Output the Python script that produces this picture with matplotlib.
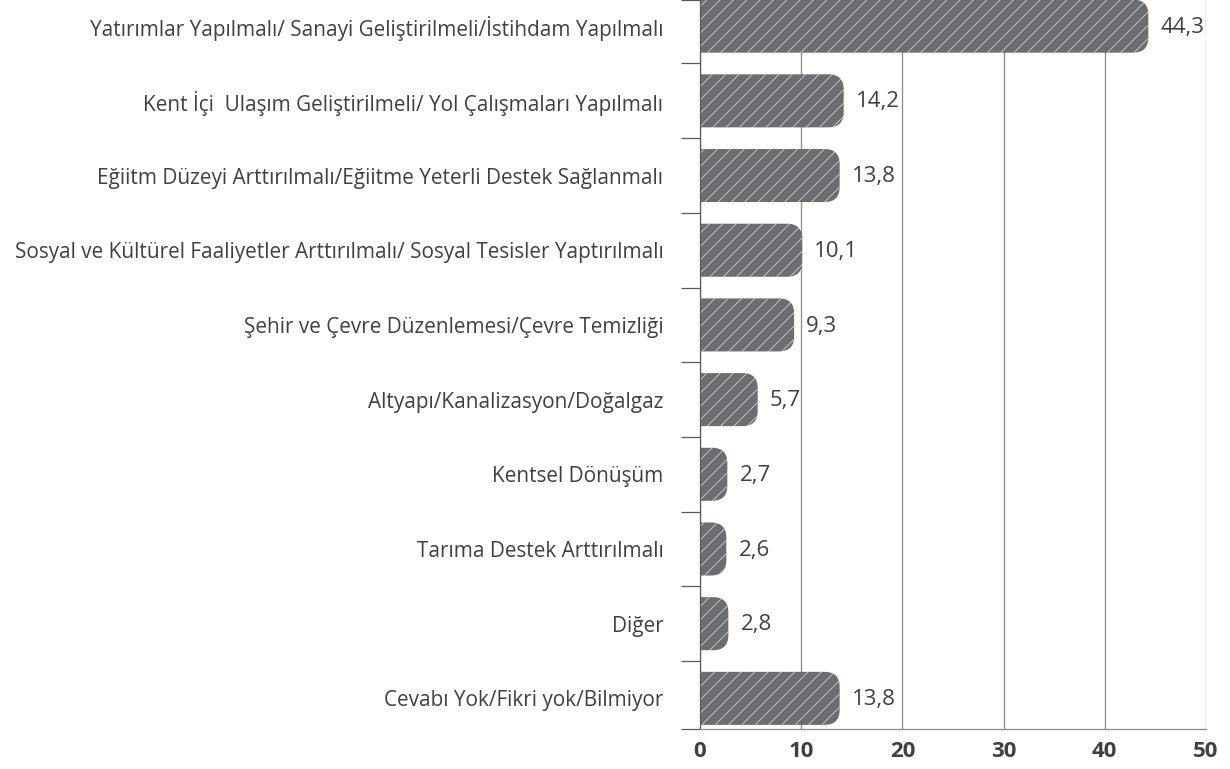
import numpy as np
import matplotlib.pyplot as plt
from matplotlib.patches import FancyBboxPatch

plt.rcParams['font.family'] = ['Open Sans', 'DejaVu Sans']
plt.rcParams['hatch.linewidth'] = 0.8

# categories (top to bottom) and percentages
categories = [
    "Yatırımlar Yapılmalı/ Sanayi Geliştirilmeli/İstihdam Yapılmalı",
    "Kent İçi  Ulaşım Geliştirilmeli/ Yol Çalışmaları Yapılmalı",
    "Eğiitm Düzeyi Arttırılmalı/Eğiitme Yeterli Destek Sağlanmalı",
    "Sosyal ve Kültürel Faaliyetler Arttırılmalı/ Sosyal Tesisler Yaptırılmalı",
    "Şehir ve Çevre Düzenlemesi/Çevre Temizliği",
    "Altyapı/Kanalizasyon/Doğalgaz",
    "Kentsel Dönüşüm",
    "Tarıma Destek Arttırılmalı",
    "Diğer",
    "Cevabı Yok/Fikri yok/Bilmiyor",
]
values = [44.3, 14.2, 13.8, 10.1, 9.3, 5.7, 2.7, 2.6, 2.8, 13.8]
xticks = [0, 10, 20, 30, 40, 50]

DPI = 80
fig = plt.figure(figsize=(1230 / DPI, 769 / DPI), dpi=DPI)
ax = fig.add_axes([700 / 1230, 1 - 729 / 769, 506 / 1230, 729 / 769])

n = len(categories)
ypos = np.arange(n)[::-1]
bar_h = 0.71
bars = ax.barh(ypos, values, height=bar_h, color='none', edgecolor='none')

# rounded right ends: box starts left of 0 so the axes clip its left side
r = 1.5
asp = 0.134
for rect in bars:
    x0, y0 = rect.get_x(), rect.get_y()
    w, h = rect.get_width(), rect.get_height()
    p = FancyBboxPatch((x0 - r, y0), w + r, h,
                       boxstyle=f"round,pad=0,rounding_size={r}",
                       mutation_aspect=asp, facecolor='#6c6d71',
                       edgecolor='#cbcbcb', linewidth=0, hatch='//', zorder=2)
    ax.add_patch(p)
    rect.set_visible(False)

for y, v in zip(ypos, values):
    ax.annotate(f"{v:.1f}".replace('.', ','), (v, y), xytext=(11, -1),
                textcoords='offset points', va='center', ha='left',
                fontsize=20, color='#404040')

ax.set_xlim(0, 50)
ax.set_ylim(-0.41, 9.35)
ax.set_xticks(xticks)
ax.set_xticklabels([str(t) for t in xticks], fontweight='bold', fontsize=20, color='#404040')
ax.tick_params(axis='x', length=0, pad=11)

ax.set_yticks(ypos)
ax.set_yticklabels(categories, fontsize=18.7, color='#404040')
ax.tick_params(axis='y', which='major', length=0, pad=33)
ax.set_yticks(list(np.arange(0.5, n - 1, 1)) + [-0.41, 9.35], minor=True)
ax.tick_params(axis='y', which='minor', length=17, width=1.1, color='#595959')

ax.grid(axis='x', color='#8e8e8e', linewidth=1.2)
ax.set_axisbelow(True)
for s in ['top', 'right']:
    ax.spines[s].set_visible(False)
ax.spines['left'].set_color('#595959')
ax.spines['left'].set_linewidth(1.1)
ax.spines['bottom'].set_color('#8e8e8e')
ax.spines['bottom'].set_linewidth(1.2)

fig.savefig('out.png', dpi=DPI)
